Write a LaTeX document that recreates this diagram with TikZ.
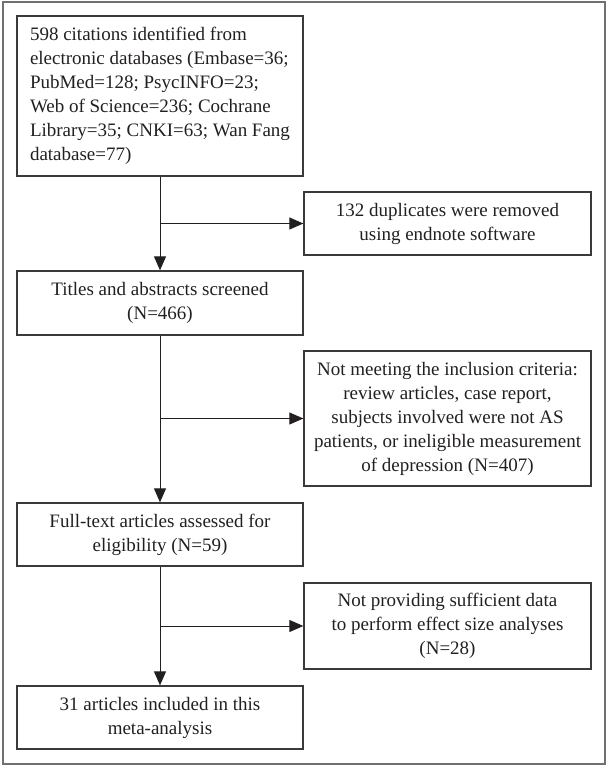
\documentclass[tikz,border=0pt]{standalone}
\usepackage{fontspec}
\setmainfont{Liberation Serif}
\usetikzlibrary{arrows.meta}
\definecolor{txt}{HTML}{231F20}
\definecolor{boxline}{HTML}{3A3A3A}
\definecolor{frameline}{HTML}{707070}
\begin{document}
\begin{tikzpicture}[x=1pt,y=-1pt,
  box/.style={draw=boxline, line width=1.3pt, text=txt, inner sep=0pt,
    font=\fontsize{19}{24}\selectfont},
  lbox/.style={box, align=left},
  cbox/.style={box, align=center},
  arr/.style={draw=txt, line width=1pt, -{Triangle[length=14pt,width=12pt]}},
  ]
\useasboundingbox (0,0) rectangle (607,767);
\draw[frameline, line width=1.6pt] (3,2) rectangle (605,764);

\node[lbox, minimum width=286, minimum height=160] (b1) at (160,96)
  {598 citations identified from\\electronic databases (Embase=36;\\PubMed=128; PsycINFO=23;\\Web of Science=236; Cochrane\\Library=35; CNKI=63; Wan Fang\\database=77)};
\node[cbox, minimum width=287, minimum height=63] (b2) at (447.5,223.5)
  {132 duplicates were removed\\using endnote software};
\node[cbox, minimum width=286, minimum height=64] (b3) at (160,303)
  {Titles and abstracts screened\\(N=466)};
\node[cbox, minimum width=287, minimum height=135] (b4) at (447.5,418.5)
  {Not meeting the inclusion criteria:\\review articles, case report,\\subjects involved were not AS\\patients, or ineligible measurement\\of depression (N=407)};
\node[cbox, minimum width=286, minimum height=63] (b5) at (160,534.5)
  {Full-text articles assessed for\\eligibility (N=59)};
\node[cbox, minimum width=287, minimum height=86] (b6) at (447.5,626)
  {Not providing sufficient data\\to perform effect size analyses\\(N=28)};
\node[cbox, minimum width=286, minimum height=63] (b7) at (160,717.5)
  {31 articles included in this\\meta-analysis};

\draw[arr] (b1.south) -- (b3.north);
\draw[arr] (b1.south |- b2.west) -- (b2.west);
\draw[arr] (b3.south) -- (b5.north);
\draw[arr] (b3.south |- b4.west) -- (b4.west);
\draw[arr] (b5.south) -- (b7.north);
\draw[arr] (b5.south |- b6.west) -- (b6.west);
\end{tikzpicture}
\end{document}
